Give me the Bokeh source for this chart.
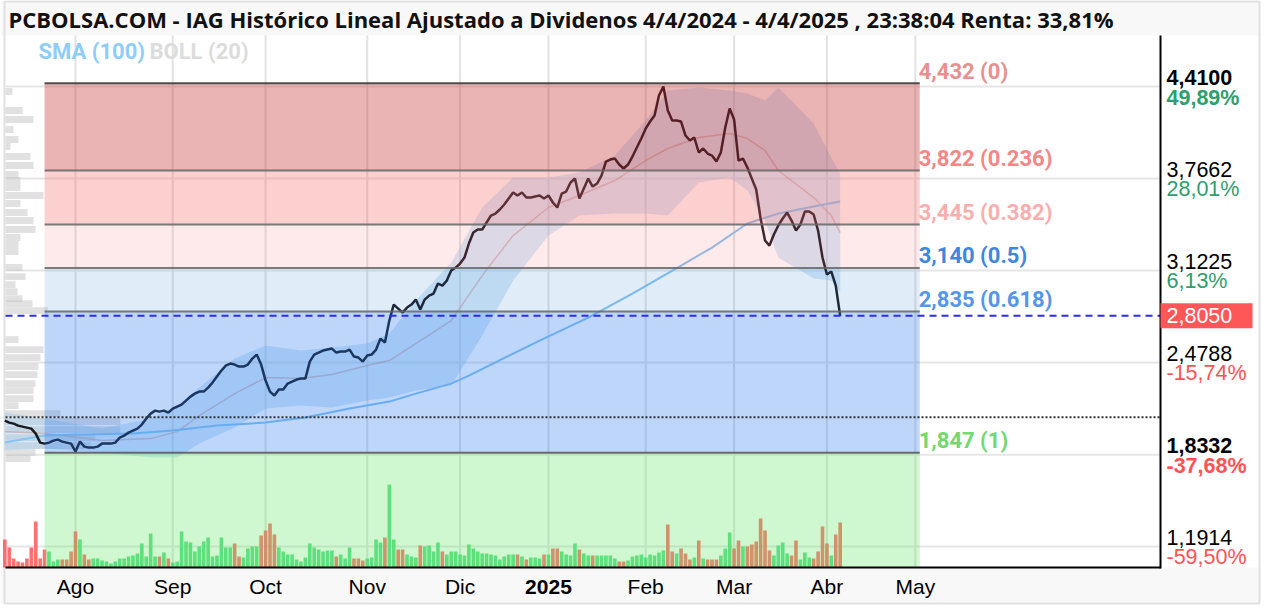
from bokeh.plotting import figure
from bokeh.models import Range1d
from bokeh.core.properties import value
from bokeh.embed import file_html
from bokeh.resources import INLINE

# ---------------- data ----------------
# x = trading-day index (0 = 9 Jul 2024)
month_idx = [16, 38, 59, 82, 103, 123, 145, 165, 186, 206]
month_lbl = ["Ago", "Sep", "Oct", "Nov", "Dic", "2025", "Feb", "Mar", "Abr", "May"]

price = [
    2.072, 2.058, 2.051, 2.037, 2.030, 2.023, 2.016, 1.981, 1.918, 1.911,
    1.918, 1.932, 1.939, 1.925, 1.918, 1.911, 1.855, 1.925, 1.890, 1.883,
    1.883, 1.890, 1.911, 1.911, 1.911, 1.918, 1.953, 1.967, 1.988, 2.002,
    2.016, 2.044, 2.086, 2.121, 2.142, 2.135, 2.142, 2.128, 2.156, 2.170,
    2.184, 2.212, 2.240, 2.261, 2.275, 2.275, 2.303, 2.338, 2.380, 2.422,
    2.457, 2.471, 2.464, 2.450, 2.450, 2.464, 2.506, 2.534, 2.464, 2.352,
    2.275, 2.247, 2.289, 2.289, 2.331, 2.345, 2.359, 2.366, 2.366, 2.485,
    2.534, 2.548, 2.562, 2.569, 2.576, 2.548, 2.555, 2.555, 2.569, 2.520,
    2.513, 2.485, 2.527, 2.534, 2.569, 2.646, 2.618, 2.772, 2.884, 2.856,
    2.828, 2.863, 2.884, 2.919, 2.849, 2.919, 2.947, 2.961, 3.031, 3.017,
    3.052, 3.122, 3.143, 3.171, 3.213, 3.311, 3.388, 3.409, 3.409, 3.458,
    3.507, 3.521, 3.549, 3.584, 3.626, 3.668, 3.647, 3.668, 3.633, 3.633,
    3.640, 3.647, 3.626, 3.647, 3.598, 3.563, 3.661, 3.675, 3.738, 3.766,
    3.626, 3.696, 3.766, 3.710, 3.731, 3.787, 3.885, 3.899, 3.906, 3.864,
    3.836, 3.864, 3.920, 3.983, 4.046, 4.116, 4.165, 4.207, 4.347, 4.410,
    4.242, 4.172, 4.172, 4.165, 4.067, 4.032, 4.053, 3.948, 3.976, 3.941,
    3.927, 3.885, 3.948, 4.123, 4.256, 4.179, 3.892, 3.906, 3.843, 3.766,
    3.689, 3.486, 3.332, 3.297, 3.374, 3.437, 3.486, 3.528, 3.472, 3.402,
    3.444, 3.535, 3.535, 3.514, 3.402, 3.213, 3.094, 3.115, 3.017, 2.805,
]

volume = [
    28, 20, 9, 6, 5, 9, 20, 46, 9, 18,
    16, 6, 8, 8, 8, 16, 36, 28, 13, 8,
    9, 9, 7, 6, 4, 6, 9, 9, 11, 12,
    14, 24, 11, 34, 11, 11, 15, 9, 5, 6,
    36, 26, 25, 16, 21, 26, 30, 11, 12, 30,
    20, 20, 24, 11, 10, 19, 21, 21, 32, 37,
    44, 33, 20, 16, 13, 13, 8, 6, 10, 24,
    20, 18, 16, 17, 17, 11, 13, 9, 20, 9,
    9, 7, 9, 10, 28, 25, 30, 83, 28, 18,
    18, 13, 11, 10, 22, 21, 22, 16, 25, 16,
    13, 16, 16, 13, 12, 23, 19, 16, 14, 14,
    13, 12, 8, 11, 13, 13, 13, 11, 8, 10,
    10, 9, 13, 13, 19, 19, 16, 13, 12, 24,
    18, 14, 12, 12, 12, 12, 12, 12, 9, 6,
    6, 7, 11, 12, 13, 10, 13, 12, 15, 17,
    43, 16, 14, 19, 14, 8, 10, 27, 9, 8,
    8, 8, 12, 19, 35, 19, 27, 21, 21, 23,
    26, 49, 37, 17, 12, 22, 25, 14, 12, 27,
    8, 15, 10, 9, 16, 41, 24, 12, 33, 45,
]

sma_idx = [0, 9, 18, 29, 38, 48, 59, 68, 78, 87, 93, 101, 105, 121, 132, 142, 153, 160, 168, 175, 183, 189]
sma_val = [1.918, 1.967, 1.974, 1.981, 2.002, 2.037, 2.058, 2.093, 2.156, 2.205, 2.261, 2.331, 2.387,
           2.632, 2.793, 2.961, 3.157, 3.283, 3.451, 3.521, 3.570, 3.605]

boll_idx = [0, 9, 22, 33, 39, 44, 52, 59, 67, 74, 82, 87, 93, 101, 108, 115, 123, 130, 138, 145,
            150, 157, 164, 168, 172, 175, 183, 187, 189]
boll_up = [2.128, 2.086, 2.016, 2.086, 2.177, 2.303, 2.506, 2.597, 2.562, 2.583, 2.611, 2.681, 2.912,
           3.178, 3.563, 3.773, 3.773, 3.808, 3.927, 4.172, 4.382, 4.403, 4.382, 4.361, 4.312, 4.403,
           4.151, 3.913, 3.801]
boll_lo = [1.862, 1.876, 1.848, 1.813, 1.813, 1.911, 2.023, 2.156, 2.177, 2.163, 2.212, 2.233, 2.282,
           2.317, 2.667, 3.052, 3.367, 3.507, 3.521, 3.521, 3.507, 3.738, 3.773, 3.682, 3.472, 3.213,
           3.066, 3.052, 2.968]
boll_mid = [1.995, 1.981, 1.932, 1.946, 1.995, 2.107, 2.261, 2.373, 2.366, 2.394, 2.457, 2.492, 2.611,
            2.772, 3.087, 3.367, 3.563, 3.647, 3.752, 3.892, 3.976, 4.053, 4.081, 4.046, 3.962, 3.822,
            3.633, 3.507, 3.388]

prof_price = [4.375, 4.242, 4.179, 4.109, 4.039, 3.990, 3.920, 3.857, 3.794, 3.752, 3.703, 3.647,
              3.591, 3.528, 3.472, 3.409, 3.353, 3.304, 3.255, 3.143, 3.080, 3.024, 2.975, 2.926,
              2.891, 2.842, 2.639, 2.569, 2.513, 2.450, 2.394, 2.331, 2.282, 2.226, 2.177, 2.121,
              2.065, 2.009, 1.953, 1.897, 1.848, 1.806]
prof_vol = [7, 17, 28, 8, 13, 5, 25, 28, 13, 15, 15, 38, 15, 22, 28, 30, 15, 13, 13, 17, 20, 10, 12,
            17, 27, 42, 13, 38, 35, 33, 32, 30, 28, 28, 13, 55, 115, 115, 90, 85, 30, 25]

fib_levels = [4.432, 3.822, 3.445, 3.140, 2.835, 1.847]
fib_ratios = ["0", "0.236", "0.382", "0.5", "0.618", "1"]
fib_start, fib_end = 9, 207

tick_vals = [4.4100, 3.7662, 3.1225, 2.4788, 1.8332, 1.1914]
tick_txt = ["4,4100", "3,7662", "3,1225", "2,4788", "1,8332", "1,1914"]
tick_pct = ["49,89%", "28,01%", "6,13%", "-15,74%", "-37,68%", "-59,50%"]
start_price = 2.0963

title_txt = "PCBOLSA.COM - IAG Histórico Lineal Ajustado a Dividenos 4/4/2024 - 4/4/2025 , 23:38:04 Renta: 33,81%"

# ---------------- layout constants ----------------
W, H = 1264, 608
PXD, X0 = 4.42, 4.3                # px per trading day, px of day 0
PPU, YREF, PREF = 142.9, 86, 4.41  # px per price unit; reference px / price


def xv(px):
    return (px - X0) / PXD


def yv(px):
    return PREF - (px - YREF) / PPU


PL, PR, PT, PB = 5, 1160, 35, 567   # plot box (px)
AXIS_X = xv(PR)
XL = xv(PL)

p = figure(width=W, height=H, x_range=Range1d(xv(0), xv(W)), y_range=Range1d(yv(H), yv(0)),
           x_axis_type=None, y_axis_type=None, output_backend="svg", toolbar_location=None,
           min_border=0, background_fill_color="white", border_fill_color="white",
           outline_line_color=None)
p.xgrid.visible = False
p.ygrid.visible = False
p.extra_y_ranges = {"vol": Range1d(-(H - PB), PB)}
p.extra_x_ranges = {"prof": Range1d(-PL, W - PL)}

# page background bands
p.quad(left=[xv(0), xv(0)], right=[xv(1259), xv(1259)], top=[yv(0), yv(PB)], bottom=[yv(PT), yv(603)],
       fill_color="#f8f8f8", line_color=None)
p.quad(left=[xv(4)], right=[xv(1259)], top=[yv(1)], bottom=[yv(603)], fill_color=None,
       line_color="#e0e0e0", line_width=2)

# grid lines
n = len(tick_vals)
p.segment(x0=[XL] * n, x1=[AXIS_X] * n, y0=tick_vals, y1=tick_vals, line_color="#e6e6e6", line_width=2)
m = len(month_idx)
p.segment(x0=month_idx, x1=month_idx, y0=[yv(PT)] * m, y1=[yv(PB)] * m, line_color="#e2e2e2",
          line_width=2)

# title
p.text(x=[xv(8)], y=[yv(18)], text=[title_txt], text_font=value("Open Sans"), text_font_style="bold",
       text_font_size="22px", text_color="#111111", text_align="left", text_baseline="middle")

# month labels
p.text(x=month_idx, y=[yv(586)] * m, text=month_lbl, text_font=value("Liberation Sans"),
       text_font_size="21px", text_font_style=["bold" if l == "2025" else "normal" for l in month_lbl],
       text_color="black", text_align="center", text_baseline="middle")

# volume bars
idx = list(range(len(price)))
vol_col = ["#ff5757" if (i == 0 or price[i] < price[i - 1]) else "#3fd774" for i in idx]
p.vbar(x=idx, top=volume, width=0.82, bottom=0, y_range_name="vol", fill_color=vol_col,
       line_color=None, fill_alpha=0.85)

# volume profile
p.hbar(y=prof_price, left=0, right=prof_vol, height=0.048, x_range_name="prof",
       fill_color="#c8c8c8", fill_alpha=0.55, line_color=None)

# bollinger
p.varea(x=boll_idx, y1=boll_lo, y2=boll_up, fill_color="#8cc2ee", fill_alpha=0.35)
p.line(boll_idx, boll_mid, line_color="#c9a0a0", line_alpha=0.6, line_width=1.5)
# SMA 100
p.line(sma_idx, sma_val, line_color="#86c4f4", line_width=2)
# price
p.line(idx, price, line_color="#1b1b22", line_width=2.5)

# fib zones (semi transparent overlays)
zone_col = ["#c62929", "#f86262", "#f87373", "#3080d0", "#2676ee", "#62e862"]
zone_alpha = [0.35, 0.30, 0.15, 0.15, 0.30, 0.30]
z_bots = fib_levels[1:] + [yv(PB)]
p.quad(left=[fib_start] * 6, right=[fib_end] * 6, top=fib_levels, bottom=z_bots,
       fill_color=zone_col, fill_alpha=zone_alpha, line_color=None)
p.segment(x0=[fib_start] * 6, x1=[fib_end] * 6, y0=fib_levels, y1=fib_levels,
          line_color=["#333333", "#666666", "#666666", "#666666", "#666666", "#555555"],
          line_width=2, line_alpha=0.85)
fib_text = [f"{v:.3f}".replace(".", ",") + f" ({r})" for v, r in zip(fib_levels, fib_ratios)]
fib_tcol = ["#e89090", "#f58686", "#f9aeae", "#3f86de", "#5596e8", "#72d872"]
p.text(x=[fib_end] * 6, y=fib_levels, text=fib_text, text_color=fib_tcol, text_font=value("Roboto"),
       text_font_style="bold", text_font_size="22px", text_align="left", text_baseline="middle",
       x_offset=-1, y_offset=-12)

# reference lines
p.segment(x0=[XL], x1=[AXIS_X], y0=[start_price], y1=[start_price], line_color="#333333",
          line_width=2, line_dash="2 2")
p.segment(x0=[XL], x1=[AXIS_X], y0=[price[-1]], y1=[price[-1]], line_color="#2b2bff",
          line_width=2, line_dash="7 5")

# plot box: right price axis line + bottom line
p.segment(x0=[AXIS_X, XL], x1=[AXIS_X, AXIS_X], y0=[yv(PT), yv(PB)], y1=[yv(PB + 1), yv(PB)],
          line_color="black", line_width=2)

# right labels
lab_x = xv(1166)
bold = ["bold", "normal", "normal", "normal", "bold", "normal"]
pct_col = ["#2e9e6e" if not t.startswith("-") else "#ff5252" for t in tick_pct]
p.text(x=[lab_x] * n, y=tick_vals, text=tick_txt, text_font=value("Liberation Sans"),
       text_font_size="21.5px", text_font_style=bold, text_color="black", text_align="left",
       text_baseline="middle", y_offset=-9)
p.text(x=[lab_x] * n, y=tick_vals, text=tick_pct, text_font=value("Liberation Sans"),
       text_font_size="21.5px", text_font_style=bold, text_color=pct_col, text_align="left",
       text_baseline="middle", y_offset=11)

# last price tag
tag_h = 12.5 / PPU
p.quad(left=[AXIS_X], right=[xv(1252)], top=[price[-1] + tag_h], bottom=[price[-1] - tag_h],
       fill_color="#ff5757", line_color=None)
p.text(x=[lab_x], y=[price[-1]], text=[f"{price[-1]:.4f}".replace(".", ",")], text_color="white",
       text_font=value("Liberation Sans"), text_font_size="21.5px", text_align="left",
       text_baseline="middle")

# indicator legend
p.text(x=[xv(38), xv(149)], y=[yv(51)] * 2, text=["SMA (100)", "BOLL (20)"],
       text_color=["#8ecdf8", "#dcdcdc"], text_font=value("Roboto"), text_font_style="bold",
       text_font_size="22px", text_align="left", text_baseline="middle")

open("out.html", "w").write(file_html(p, INLINE))
